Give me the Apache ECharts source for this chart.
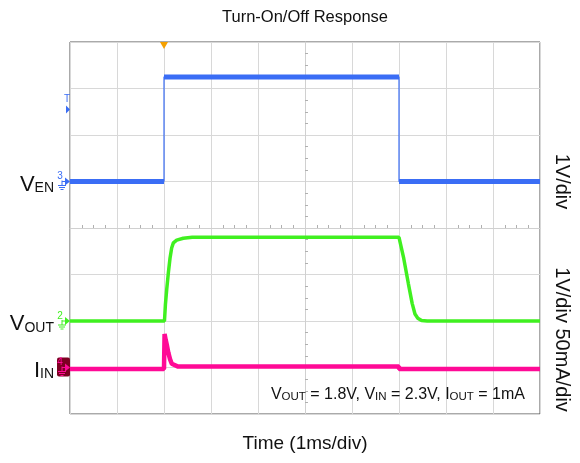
<!DOCTYPE html>
<html>
<head>
<meta charset="utf-8">
<title>Turn-On/Off Response</title>
<script src="https://cdn.jsdelivr.net/npm/echarts@6/dist/echarts.min.js"></script>
<style>
html, body { margin: 0; padding: 0; background: #fff; }
#chart { width: 580px; height: 463px; }
</style>
</head>
<body>
<div id="chart"></div>
<script>
// scope screen: 10 x 1ms divisions, 8 vertical divisions
var groundDiv = { ven: 5, vout: 2, iin: 1 };
var voltsPerDiv = 1;
var mAPerDiv = 50;
var trigLevel = 1.55; // V on V_EN

// V_EN (ms, V)
var venTime = [0, 2, 2, 7, 7, 10];
var venVolts = [0, 0, 2.25, 2.25, 0, 0];

// V_OUT (ms, V)
var voutTime = [0, 2.01, 2.03, 2.057, 2.092, 2.128, 2.163, 2.199, 2.27, 2.41, 2.6,
  7.0, 7.02, 7.1, 7.2, 7.28, 7.34, 7.4, 7.48, 7.6, 10];
var voutVolts = [0, 0, 0.35, 0.67, 1.03, 1.35, 1.57, 1.68, 1.74, 1.78, 1.8,
  1.8, 1.78, 1.35, 0.8, 0.38, 0.15, 0.06, 0.01, 0, 0];

// I_IN (ms, mA)
var iinTime = [0, 2, 2.012, 2.035, 2.057, 2.092, 2.128, 2.165, 2.2, 2.3, 7, 7, 10];
var iinMA = [-1.5, -1.5, 36, 30, 25, 16, 9, 4, 2, 1, 1, -1.5, -1.5];

var blue = '#3a6df5', green = '#40f020', pink = '#ff0a96';
var font = '"Liberation Sans", Arial, sans-serif';

// convert to screen coords (centre of screen = 0,0)
function toScreen(times, vals, ground, perDiv) {
  return times.map(function (t, i) { return [t - 5, ground + vals[i] / perDiv - 4]; });
}
// flat parts of a step trace, split at vertical edges
function flats(pts) {
  var segs = [], cur = [pts[0]];
  for (var i = 1; i < pts.length; i++) {
    if (pts[i][0] === pts[i - 1][0]) { segs.push(cur); cur = [pts[i]]; }
    else cur.push(pts[i]);
  }
  segs.push(cur);
  return segs;
}

var venPts = toScreen(venTime, venVolts, groundDiv.ven, voltsPerDiv);
var voutPts = toScreen(voutTime, voutVolts, groundDiv.vout, voltsPerDiv);
var iinPts = toScreen(iinTime, iinMA, groundDiv.iin, mAPerDiv);

var series = [{
  type: 'line', data: venPts, symbol: 'none', lineStyle: { color: blue, width: 1.2 }
}];
flats(venPts).forEach(function (seg) {
  series.push({ type: 'line', data: seg, symbol: 'none', lineStyle: { color: blue, width: 5 } });
});
series.push({ type: 'line', data: voutPts, symbol: 'none', lineStyle: { color: green, width: 3.5 } });
series.push({ type: 'line', data: iinPts, symbol: 'none', lineStyle: { color: pink, width: 4.5 } });

var chart = echarts.init(document.getElementById('chart'));

function axis(lo, hi) {
  return {
    type: 'value', min: lo, max: hi, interval: 1,
    axisLine: { show: true, onZero: true, lineStyle: { color: '#d0d0d0', width: 1 } },
    axisTick: { show: false, inside: true },
    minorTick: { show: true, splitNumber: 4, length: 3, lineStyle: { color: '#b0b0b0' } },
    axisLabel: { show: false },
    splitLine: { show: true, lineStyle: { color: '#d8d8d8', width: 1 } },
    minorSplitLine: { show: false }
  };
}

chart.setOption({
  backgroundColor: '#fff',
  animation: false,
  grid: { left: 70, right: 40, top: 42, bottom: 49, show: true, borderColor: '#555', borderWidth: 1 },
  xAxis: axis(-5, 5),
  yAxis: axis(-4, 4),
  series: series
});

function px(t, div) { return chart.convertToPixel({ gridIndex: 0 }, [t - 5, div - 4]); }

function marker(num, color, div, boxed) {
  var p = px(0, div), x = p[0], y = p[1], els = [];
  if (boxed) {
    els.push({ type: 'rect', shape: { x: x - 13, y: y - 10, width: 13, height: 19, r: 2 }, style: { fill: '#7d0022' }, z: 10 });
  }
  els.push({ type: 'polygon', shape: { points: [[x - 5, y - 4], [x, y], [x - 5, y + 4]] }, style: { fill: color }, z: 11 });
  els.push({ type: 'text', style: { text: num, x: x - 10, y: y - 5, fontSize: 10, fontFamily: font, fill: color, align: 'center', verticalAlign: 'middle' }, z: 11 });
  var g = [[x - 8, y - 1, x - 8, y + 4], [x - 5, y, x - 8, y], [x - 12, y + 4, x - 4, y + 4], [x - 11, y + 6, x - 5, y + 6], [x - 9.5, y + 8, x - 6.5, y + 8]];
  g.forEach(function (l) {
    els.push({ type: 'line', shape: { x1: l[0], y1: l[1], x2: l[2], y2: l[3] }, style: { stroke: color, lineWidth: 1 }, z: 11 });
  });
  return els;
}

var trig = px(0, groundDiv.ven + trigLevel / voltsPerDiv);
var trigT = px(2, 8);
var right = px(10, 0)[0];

function label(main, sub, div) {
  return {
    type: 'text', z: 12,
    style: {
      text: '{m|' + main + '}{s|' + sub + '}', x: 54, y: px(0, div)[1] + 2,
      align: 'right', verticalAlign: 'middle', fill: '#111', fontFamily: font,
      rich: {
        m: { fontSize: 22, lineHeight: 24, verticalAlign: 'bottom', fontFamily: font, fill: '#111' },
        s: { fontSize: 14, lineHeight: 14, verticalAlign: 'bottom', fontFamily: font, fill: '#111' }
      }
    }
  };
}

var graphics = [];
graphics = graphics.concat(marker('3', blue, groundDiv.ven, false));
graphics = graphics.concat(marker('2', green, groundDiv.vout, false));
graphics = graphics.concat(marker('4', pink, groundDiv.iin, true));
graphics.push({ type: 'polygon', shape: { points: [[trig[0] - 4, trig[1] - 4], [trig[0], trig[1]], [trig[0] - 4, trig[1] + 4]] }, style: { fill: blue }, z: 11 });
graphics.push({ type: 'text', style: { text: 'T', x: trig[0] - 3, y: trig[1] - 10, fontSize: 10, fontFamily: font, fill: blue, align: 'center', verticalAlign: 'middle' }, z: 11 });
graphics.push({ type: 'polygon', shape: { points: [[trigT[0] - 4, trigT[1]], [trigT[0] + 4, trigT[1]], [trigT[0], trigT[1] + 7]] }, style: { fill: '#f5a000' }, z: 11 });

graphics.push(label('V', 'EN', groundDiv.ven));
graphics.push(label('V', 'OUT', groundDiv.vout));
graphics.push(label('I', 'IN', groundDiv.iin));

graphics.push({ type: 'text', style: { text: 'Turn-On/Off Response', x: 305, y: 17, fontSize: 16.5, fontFamily: font, fill: '#111', align: 'center', verticalAlign: 'middle' } });
graphics.push({ type: 'text', style: { text: 'Time (1ms/div)', x: 305, y: 444, fontSize: 19, fontFamily: font, fill: '#111', align: 'center', verticalAlign: 'middle' } });
graphics.push({ type: 'text', x: right + 22, y: px(0, 5)[1], rotation: -Math.PI / 2, style: { text: '1V/div', fontSize: 20, fontFamily: font, fill: '#111', align: 'center', verticalAlign: 'middle' } });
graphics.push({ type: 'text', x: right + 22, y: px(0, 1.6)[1], rotation: -Math.PI / 2, style: { text: '1V/div 50mA/div', fontSize: 20, fontFamily: font, fill: '#111', align: 'center', verticalAlign: 'middle' } });

graphics.push({
  type: 'text', z: 12,
  style: {
    text: '{m|V}{s|OUT}{m| = 1.8V, V}{s|IN}{m| = 2.3V, I}{s|OUT}{m| = 1mA}',
    x: 525, y: 394, align: 'right', verticalAlign: 'middle', fontFamily: font, fill: '#111',
    rich: {
      m: { fontSize: 16, lineHeight: 18, verticalAlign: 'bottom', fontFamily: font, fill: '#111' },
      s: { fontSize: 11.5, lineHeight: 11, verticalAlign: 'bottom', fontFamily: font, fill: '#111' }
    }
  }
});

chart.setOption({ graphic: graphics });
</script>
</body>
</html>
